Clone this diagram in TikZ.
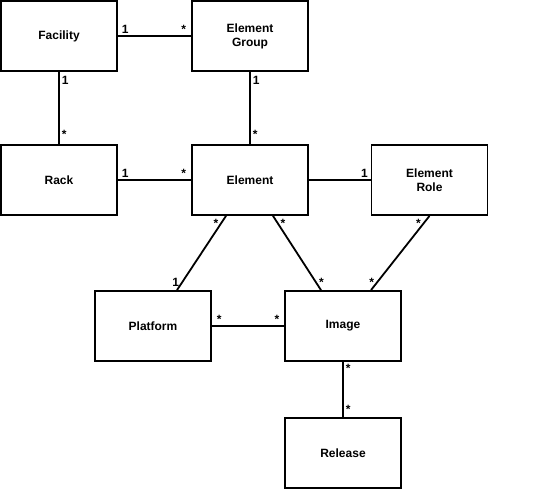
\documentclass[tikz,border=0pt]{standalone}
\usepackage{fontspec}
\setmainfont{Liberation Sans}
\usetikzlibrary{positioning}

\tikzset{
  entity/.style = {draw, line width=1.8pt, minimum width=116pt, minimum height=70pt,
                   align=center, font=\fontsize{12}{14}\selectfont\bfseries},
  mult/.style   = {font=\fontsize{12}{14}\selectfont\bfseries, inner sep=2pt},
  assoc/.style  = {line width=1.8pt}
}

\begin{document}
\begin{tikzpicture}[x=1pt, y=-1pt]
\useasboundingbox (0,0) rectangle (547,489);
% boxes
\node[entity] (facility) at (59,36) {Facility};
\node[entity] (group) at (250,36) {Element\\Group};
\node[entity] (rack) at (59,180) {Rack};
\node[entity] (element) at (250,180) {Element};
\node[entity] (role) at (429.5,180) {Element\\Role};
\node[entity] (platform) at (153,326) {Platform};
\node[entity] (image) at (343,326) {Image};
\node[entity] (release) at (343,453) {Release};
% associations
\draw[assoc] (facility) -- node[mult, pos=0.1, above]{1} node[mult, pos=0.9, above]{*} (group);
\draw[assoc] (facility) -- node[mult, pos=0.12, right]{1} node[mult, pos=0.86, right]{*} (rack);
\draw[assoc] (group) -- node[mult, pos=0.12, right]{1} node[mult, pos=0.86, right]{*} (element);
\draw[assoc] (rack) -- node[mult, pos=0.1, above]{1} node[mult, pos=0.9, above]{*} (element);
\draw[assoc] (element) -- node[mult, pos=0.9, above]{1} (role);
\draw[assoc] ([xshift=-24pt]element.south) -- node[mult, pos=0.1, left]{*} node[mult, pos=0.9, left]{1} ([xshift=24pt]platform.north);
\draw[assoc] ([xshift=23pt]element.south) -- node[mult, pos=0.1, right]{*} node[mult, pos=0.9, right]{*} ([xshift=-22pt]image.north);
\draw[assoc] (role.south) -- node[mult, pos=0.1, left]{*} node[mult, pos=0.9, left]{*} ([xshift=28pt]image.north);
\draw[assoc] (platform) -- node[mult, pos=0.1, above]{*} node[mult, pos=0.9, above]{*} (image);
\draw[assoc] (image) -- node[mult, pos=0.12, right]{*} node[mult, pos=0.86, right]{*} (release);
\end{tikzpicture}
\end{document}
